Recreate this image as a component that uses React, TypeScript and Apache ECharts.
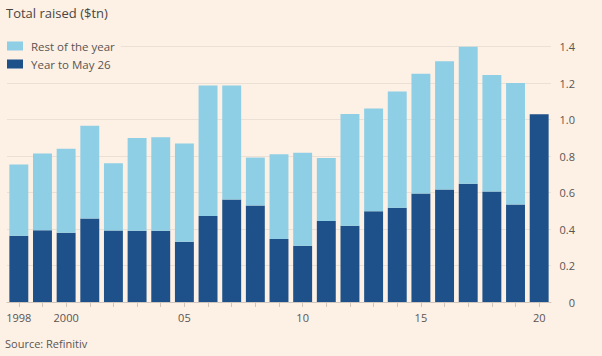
import React, { useEffect, useRef } from "react";
import * as echarts from "echarts";

const years = [
  "1998", "1999", "2000", "2001", "2002", "2003", "2004", "2005", "2006", "2007", "2008", "2009",
  "2010", "2011", "2012", "2013", "2014", "2015", "2016", "2017", "2018", "2019", "2020",
];
const tickLabels: Record<string, string> = {
  "1998": "1998",
  "2000": "2000",
  "2005": "05",
  "2010": "10",
  "2015": "15",
  "2020": "20",
};
const yearToMay = [
  0.363, 0.394, 0.38, 0.458, 0.392, 0.391, 0.391, 0.33, 0.471, 0.562, 0.529, 0.345,
  0.308, 0.444, 0.418, 0.497, 0.517, 0.595, 0.617, 0.648, 0.606, 0.535, 1.03,
];
const fullYear = [
  0.754, 0.814, 0.84, 0.966, 0.761, 0.9, 0.904, 0.869, 1.187, 1.187, 0.792, 0.81,
  0.818, 0.789, 1.031, 1.061, 1.154, 1.252, 1.32, 1.4, 1.245, 1.201, 1.03,
];
const restOfYear = fullYear.map((t, i) => +(t - yearToMay[i]).toFixed(3));

const BG = "#fdf0e5";
const DARK = "#1e5189";
const LIGHT = "#8ecfe6";
const TEXT = "#5a5552";
const FONT = "Open Sans";

export default function App() {
  const ref = useRef<HTMLDivElement>(null);
  useEffect(() => {
    if (!ref.current) return;
    const chart = echarts.init(ref.current, undefined, { renderer: "svg" });
    chart.setOption({
      animation: false,
      backgroundColor: BG,
      textStyle: { fontFamily: FONT, color: TEXT },
      title: {
        text: "Total raised ($tn)",
        left: 1,
        top: 1,
        textStyle: { fontFamily: FONT, fontSize: 13, fontWeight: "normal", color: "#4a4542" },
      },
      graphic: [
        {
          type: "text",
          left: 5,
          top: 338,
          style: { text: "Source: Refinitiv", fontFamily: FONT, fontSize: 11, fill: TEXT },
        },
      ],
      legend: {
        orient: "vertical",
        left: 4,
        top: 36,
        itemWidth: 16,
        itemHeight: 9,
        itemGap: 4,
        padding: [3, 6, 3, 3],
        backgroundColor: BG,
        icon: "rect",
        data: ["Rest of the year", "Year to May 26"],
        textStyle: { fontFamily: FONT, fontSize: 11.5, color: TEXT, lineHeight: 14, padding: [0, 0, 0, 3] },
      },
      grid: { left: 7, right: 51, top: 46.7, bottom: 54 },
      xAxis: {
        type: "category",
        data: years,
        axisLine: { show: true, lineStyle: { color: "#cfc6be" } },
        axisTick: { show: true, alignWithLabel: true, length: 5, lineStyle: { color: "#cfc6be" } },
        axisLabel: {
          interval: 0,
          margin: 10,
          fontFamily: FONT,
          fontSize: 11,
          color: TEXT,
          formatter: (v: string) => tickLabels[v] ?? "",
        },
      },
      yAxis: {
        type: "value",
        position: "right",
        min: 0,
        max: 1.4,
        interval: 0.2,
        axisLine: { show: false },
        axisTick: { show: false },
        splitLine: { show: true, lineStyle: { color: "#ebe0d6", width: 1 } },
        axisLabel: {
          align: "right",
          margin: 24,
          fontFamily: FONT,
          fontSize: 11,
          color: TEXT,
          formatter: (v: number) => (v === 0 ? "0" : v.toFixed(1)),
        },
      },
      series: [
        {
          name: "Year to May 26",
          type: "bar",
          stack: "t",
          data: yearToMay,
          barCategoryGap: "20%",
          itemStyle: { color: DARK },
        },
        {
          name: "Rest of the year",
          type: "bar",
          stack: "t",
          data: restOfYear,
          barCategoryGap: "20%",
          itemStyle: { color: LIGHT },
        },
      ],
    });
    return () => chart.dispose();
  }, []);
  return (
    <div
      ref={ref}
      style={{ position: "fixed", left: 0, top: 0, width: 602, height: 356 }}
    />
  );
}
